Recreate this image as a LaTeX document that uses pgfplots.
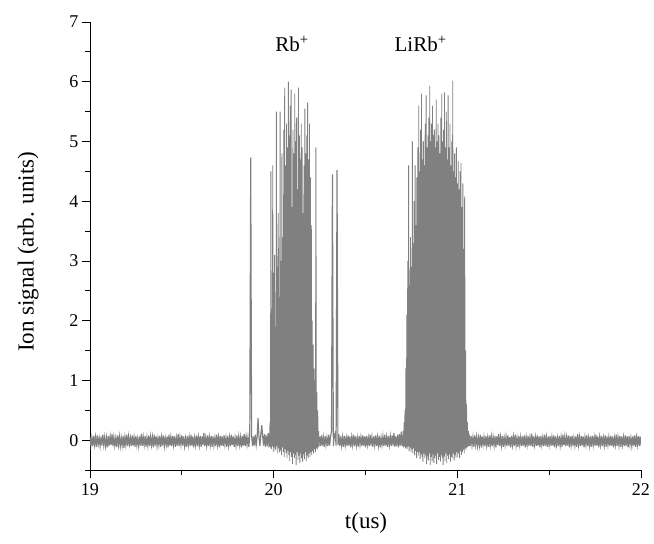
\documentclass[border=0pt]{standalone}
\usepackage{fontspec}
\setmainfont{Liberation Serif}
\usepackage{pgfplots}
\pgfplotsset{compat=1.18}
\definecolor{sig}{RGB}{128,128,128}
\begin{document}
\begin{tikzpicture}
\path[use as bounding box] (-90pt,-74pt) rectangle (564pt,470pt);
\begin{axis}[
  at={(0,0)}, anchor=south west,
  scale only axis, width=551pt, height=448pt,
  xmin=19, xmax=22, ymin=-0.5, ymax=7,
  axis x line*=bottom, axis y line*=left,
  xtick={19,20,21,22}, minor xtick={19.5,20.5,21.5},
  ytick={0,1,2,3,4,5,6,7}, minor ytick={-0.5,0.5,1.5,2.5,3.5,4.5,5.5,6.5},
  tick align=outside, major tick length=8pt, minor tick length=5pt,
  every tick/.style={black, line width=0.8pt},
  axis line style={black, line width=0.8pt},
  /pgf/number format/assume math mode=true,
  tick label style={font=\fontsize{18}{20}\selectfont},
  xticklabel style={yshift=-2pt},
  label style={font=\fontsize{23}{25}\selectfont},
  xlabel={t(us)}, ylabel={Ion signal (arb. units)},
  xlabel style={at={(axis description cs:0.501,-0.118)}, anchor=center},
  ylabel style={at={(axis description cs:-0.1125,0.487)}, anchor=center},
  clip=true,
]
\addplot[mark=none, color=sig, line width=1.15pt] table[row sep=\\, header=false, x expr={19+\coordindex*0.005}, y index=0] {
0.06\\-0.09\\0.04\\-0.1\\0.07\\-0.08\\0.05\\-0.11\\0.08\\-0.07\\
0.03\\-0.1\\0.06\\-0.09\\0.09\\-0.08\\0.05\\-0.1\\0.04\\-0.12\\
0.07\\-0.09\\0.06\\-0.08\\0.1\\-0.1\\0.05\\-0.09\\0.03\\-0.11\\
0.08\\-0.08\\0.06\\-0.1\\0.04\\-0.09\\0.07\\-0.13\\0.05\\-0.08\\
0.09\\-0.1\\0.06\\-0.07\\0.04\\-0.1\\0.08\\-0.09\\0.05\\-0.11\\
0.07\\-0.08\\0.03\\-0.1\\0.06\\-0.09\\0.11\\-0.1\\0.05\\-0.08\\
0.07\\-0.11\\0.04\\-0.09\\0.08\\-0.1\\0.06\\-0.08\\0.05\\-0.12\\
0.09\\-0.09\\0.06\\-0.1\\0.04\\-0.08\\0.07\\-0.11\\0.05\\-0.09\\
0.08\\-0.1\\0.03\\-0.08\\0.06\\-0.12\\0.09\\-0.09\\0.05\\-0.1\\
0.07\\-0.08\\0.06\\-0.11\\0.04\\-0.09\\0.1\\-0.1\\0.05\\-0.08\\
0.08\\-0.09\\0.06\\-0.1\\0.03\\-0.11\\0.07\\-0.08\\0.05\\-0.1\\
0.09\\-0.09\\0.06\\-0.12\\0.04\\-0.08\\0.08\\-0.1\\0.05\\-0.09\\
0.07\\-0.11\\0.06\\-0.08\\0.12\\-0.1\\0.04\\-0.09\\0.08\\-0.1\\
0.05\\-0.08\\0.07\\-0.11\\0.06\\-0.09\\0.04\\-0.1\\0.09\\-0.08\\
0.05\\-0.12\\0.07\\-0.09\\0.06\\-0.1\\0.08\\-0.08\\0.04\\-0.11\\
0.07\\-0.09\\0.05\\-0.1\\0.09\\-0.08\\0.06\\-0.11\\0.04\\-0.09\\
0.08\\-0.1\\0.06\\-0.08\\0.05\\-0.12\\0.07\\-0.09\\0.1\\-0.1\\
0.06\\-0.08\\0.05\\-0.11\\0.08\\4.73\\0.07\\-0.1\\0.06\\-0.09\\
0.09\\-0.08\\0.05\\0.37\\0.06\\-0.1\\0.08\\0.25\\0.07\\-0.09\\
0.1\\-0.11\\0.08\\-0.1\\0.12\\-0.12\\
};
\addplot[mark=none, color=sig, line width=0.85pt] table[row sep=\\, header=false, x expr={19.975+\coordindex*0.0025}, y index=0] {
0.1\\-0.1\\0.3\\-0.12\\4.5\\-0.15\\2.2\\-0.1\\4.6\\-0.2\\
2.8\\-0.12\\3.1\\-0.18\\1.9\\-0.15\\5.5\\-0.1\\2.9\\-0.22\\
3.8\\-0.14\\2.4\\-0.2\\5.5\\-0.17\\3.0\\-0.25\\4.8\\-0.12\\
3.4\\-0.2\\5.2\\-0.28\\5.9\\-0.15\\4.6\\-0.22\\5.3\\-0.3\\
4.9\\-0.18\\6.0\\-0.25\\5.1\\-0.35\\5.6\\-0.2\\5.87\\-0.28\\
3.9\\-0.4\\5.2\\-0.22\\4.8\\-0.3\\5.8\\-0.25\\5.0\\-0.42\\
5.4\\-0.2\\4.2\\-0.33\\5.9\\-0.26\\5.1\\-0.38\\4.7\\-0.22\\
5.3\\-0.3\\4.9\\-0.36\\3.8\\-0.24\\4.6\\-0.32\\5.55\\-0.2\\
4.8\\-0.35\\5.1\\-0.26\\5.65\\-0.3\\4.7\\-0.22\\5.3\\-0.28\\
4.4\\-0.2\\3.6\\-0.25\\2.0\\-0.18\\1.6\\-0.22\\1.2\\-0.15\\
1.0\\-0.2\\4.9\\-0.14\\0.8\\-0.16\\0.5\\-0.12\\0.15\\-0.1\\
0.05\\
};
\addplot[mark=none, color=sig, line width=1.15pt] table[row sep=\\, header=false, x expr={20.25+\coordindex*0.005}, y index=0] {
0.06\\-0.1\\0.08\\-0.09\\0.05\\-0.11\\0.07\\-0.08\\0.04\\-0.1\\
0.09\\-0.09\\0.06\\0.15\\4.45\\-0.1\\0.08\\0.12\\-0.09\\4.52\\
-0.08\\0.1\\-0.1\\0.06\\-0.09\\0.05\\-0.11\\0.07\\-0.08\\0.04\\
-0.1\\0.08\\-0.09\\0.06\\-0.12\\0.05\\-0.08\\0.09\\-0.1\\0.06\\
-0.09\\0.04\\-0.11\\0.07\\-0.08\\0.05\\-0.1\\0.08\\-0.09\\0.06\\
-0.12\\0.07\\-0.08\\0.04\\-0.1\\0.09\\-0.09\\0.05\\-0.11\\0.06\\
-0.08\\0.08\\-0.1\\0.05\\-0.09\\0.07\\-0.12\\0.04\\-0.08\\0.06\\
-0.1\\0.09\\-0.09\\0.05\\-0.11\\0.07\\-0.08\\0.06\\-0.1\\0.08\\
-0.09\\0.12\\-0.11\\0.06\\-0.1\\0.09\\-0.12\\0.1\\-0.09\\0.14\\
-0.1\\
};
\addplot[mark=none, color=sig, line width=0.85pt] table[row sep=\\, header=false, x expr={20.7+\coordindex*0.0025}, y index=0] {
0.08\\-0.1\\0.15\\-0.12\\0.3\\-0.1\\0.5\\-0.14\\1.2\\-0.12\\
2.1\\-0.15\\3.0\\-0.1\\4.6\\-0.18\\2.6\\-0.12\\3.4\\-0.2\\
2.9\\-0.15\\5.0\\-0.22\\3.3\\-0.14\\4.0\\-0.25\\4.6\\-0.18\\
3.6\\-0.3\\4.4\\-0.2\\4.9\\-0.26\\5.6\\-0.2\\4.5\\-0.32\\
5.2\\-0.24\\5.8\\-0.28\\4.7\\-0.36\\5.0\\-0.22\\4.6\\-0.3\\
5.3\\-0.25\\5.77\\-0.4\\4.9\\-0.27\\5.1\\-0.34\\5.4\\-0.22\\
5.93\\-0.42\\5.0\\-0.28\\5.3\\-0.35\\5.6\\-0.24\\5.1\\-0.38\\
5.2\\-0.3\\4.9\\-0.26\\5.7\\-0.4\\5.0\\-0.22\\5.3\\-0.33\\
5.1\\-0.28\\4.8\\-0.36\\5.4\\-0.25\\5.8\\-0.3\\5.0\\-0.42\\
5.2\\-0.27\\5.82\\-0.35\\4.9\\-0.22\\5.5\\-0.38\\4.7\\-0.26\\
5.77\\-0.32\\4.9\\-0.24\\5.3\\-0.36\\4.6\\-0.28\\5.0\\-0.3\\
6.02\\-0.22\\4.5\\-0.34\\4.8\\-0.25\\4.4\\-0.3\\4.9\\-0.2\\
4.3\\-0.28\\4.67\\-0.22\\4.2\\-0.3\\4.5\\-0.18\\4.64\\-0.25\\
3.9\\-0.2\\4.3\\-0.16\\3.2\\-0.22\\4.08\\-0.14\\1.5\\-0.16\\
0.6\\-0.12\\0.3\\-0.11\\0.15\\-0.1\\0.1\\-0.09\\0.06\\
};
\addplot[mark=none, color=sig, line width=1.15pt] table[row sep=\\, header=false, x expr={21.07+\coordindex*0.005}, y index=0] {
-0.1\\0.07\\-0.09\\0.05\\-0.11\\0.08\\-0.08\\0.06\\-0.1\\0.04\\
-0.09\\0.09\\-0.12\\0.06\\-0.08\\0.05\\-0.1\\0.07\\-0.09\\0.04\\
-0.11\\0.08\\-0.08\\0.06\\-0.1\\0.05\\-0.09\\0.07\\-0.12\\0.06\\
-0.08\\0.1\\-0.1\\0.05\\-0.09\\0.07\\-0.11\\0.04\\-0.08\\0.06\\
-0.1\\0.08\\-0.09\\0.05\\-0.12\\0.07\\-0.08\\0.06\\-0.1\\0.09\\
-0.09\\0.04\\-0.11\\0.07\\-0.08\\0.05\\-0.1\\0.06\\-0.09\\0.08\\
-0.12\\0.05\\-0.08\\0.07\\-0.1\\0.04\\-0.09\\0.11\\-0.11\\0.06\\
-0.08\\0.05\\-0.1\\0.08\\-0.09\\0.06\\-0.12\\0.07\\-0.08\\0.04\\
-0.1\\0.09\\-0.09\\0.05\\-0.11\\0.06\\-0.08\\0.07\\-0.1\\0.05\\
-0.09\\0.08\\-0.12\\0.06\\-0.08\\0.04\\-0.1\\0.07\\-0.09\\0.05\\
-0.11\\0.09\\-0.08\\0.06\\-0.1\\0.05\\-0.09\\0.08\\-0.12\\0.06\\
-0.08\\0.07\\-0.1\\0.04\\-0.09\\0.06\\-0.11\\0.1\\-0.08\\0.05\\
-0.1\\0.07\\-0.09\\0.06\\-0.12\\0.05\\-0.08\\0.08\\-0.1\\0.04\\
-0.09\\0.06\\-0.11\\0.07\\-0.08\\0.05\\-0.1\\0.09\\-0.09\\0.06\\
-0.12\\0.05\\-0.08\\0.07\\-0.1\\0.04\\-0.09\\0.08\\-0.11\\0.06\\
-0.08\\0.05\\-0.1\\0.07\\-0.09\\0.06\\-0.12\\0.04\\-0.08\\0.09\\
-0.1\\0.05\\-0.09\\0.07\\-0.11\\0.06\\-0.08\\0.05\\-0.1\\0.08\\
-0.09\\0.06\\-0.12\\0.07\\-0.08\\0.04\\-0.1\\0.06\\-0.09\\0.08\\
-0.11\\0.05\\-0.08\\0.07\\-0.1\\0.06\\-0.09\\
};
\node[font=\fontsize{21}{23}\selectfont] at (axis cs:20.10,6.63) {Rb\textsuperscript{+}};
\node[font=\fontsize{21}{23}\selectfont] at (axis cs:20.80,6.63) {LiRb\textsuperscript{+}};
\end{axis}
\end{tikzpicture}
\end{document}
